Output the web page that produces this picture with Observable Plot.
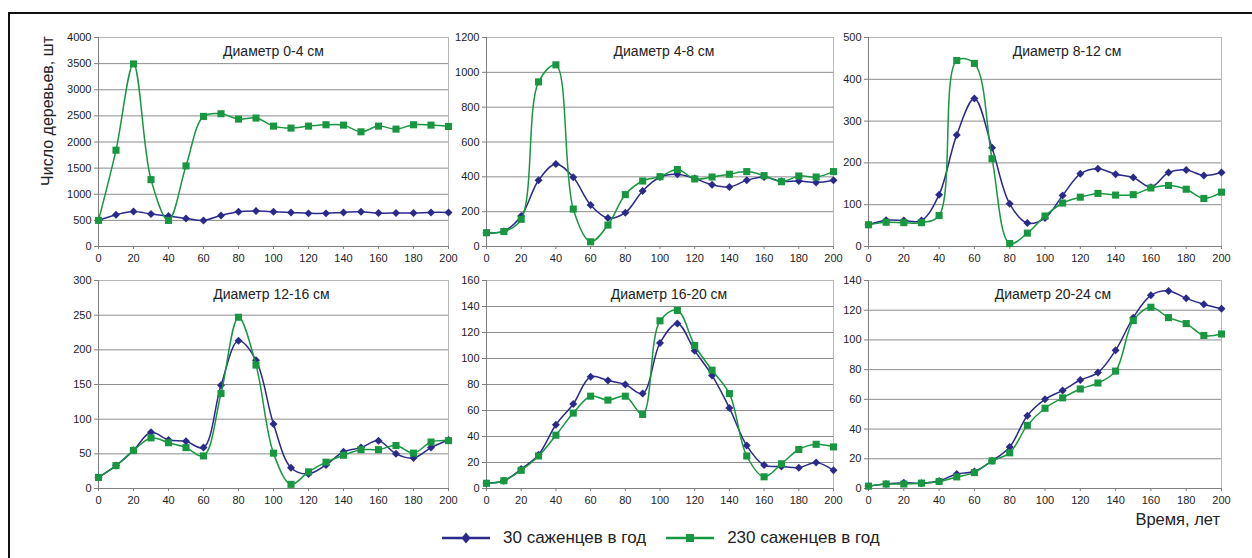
<!DOCTYPE html>
<html>
<head>
<meta charset="utf-8">
<script src="https://cdn.jsdelivr.net/npm/d3@7"></script>
<script src="https://cdn.jsdelivr.net/npm/@observablehq/plot@0.6"></script>
<style>
  html, body { margin: 0; padding: 0; background: #fff; }
  #wrap { position: relative; width: 1252px; height: 558px; overflow: hidden; background: #fff;
          font-family: "Liberation Sans", Arial, sans-serif; color: #222; }
  #border { position: absolute; left: 8px; top: 12px; width: 1400px; height: 700px; border: 2px solid #111; }
  .panel { position: absolute; }
  #ylab { position: absolute; left: 48px; top: 111px; transform: translate(-50%, -50%) rotate(-90deg);
          font-size: 16px; white-space: nowrap; }
  #xlab { position: absolute; right: 32px; top: 510px; font-size: 16.5px; white-space: nowrap; }
  #legend { position: absolute; left: 442px; top: 528px; display: flex; align-items: center; font-size: 17px; white-space: nowrap; }
  #legend .item { display: flex; align-items: center; }
  #legend svg { margin-right: 13px; }
</style>
</head>
<body>
<div id="wrap">
  <div id="border"></div>
  <div id="ylab">Число деревьев, шт</div>
  <div id="xlab">Время, лет</div>
  <div id="legend"></div>
</div>
<script>
// ---- data ----
const years = [0,10,20,30,40,50,60,70,80,90,100,110,120,130,140,150,160,170,180,190,200];
const seriesNames = ["30 саженцев в год", "230 саженцев в год"];
const titles = ["Диаметр 0-4 см", "Диаметр 4-8 см", "Диаметр 8-12 см", "Диаметр 12-16 см", "Диаметр 16-20 см", "Диаметр 20-24 см"];
const yMax = [4000, 1200, 500, 300, 160, 140];
const yStep = [500, 200, 100, 50, 20, 20];

const d0_4_30   = [500,608,672,621,582,538,499,595,666,678,666,653,634,634,653,666,640,640,640,653,653];
const d0_4_230  = [500,1843,3494,1280,499,1542,2490,2541,2438,2458,2304,2266,2304,2330,2323,2195,2304,2246,2330,2323,2298];
const d4_8_30   = [79,88,175,380,474,397,238,163,194,319,399,415,390,355,342,380,399,374,376,367,380];
const d4_8_230  = [79,86,156,945,1043,215,27,123,298,376,401,442,388,399,415,430,407,372,405,399,430];
const d8_12_30  = [52,63,62,62,124,267,354,236,102,56,68,122,174,186,173,165,142,177,183,170,177];
const d8_12_230 = [52,58,57,57,74,445,438,210,7,32,73,104,118,127,123,124,140,146,137,115,130];
const d12_16_30  = [16,33,55,81,70,68,59,149,213,185,93,30,21,34,53,59,69,50,44,59,70];
const d12_16_230 = [16,33,55,73,66,59,47,137,247,178,51,6,24,38,48,56,56,62,51,67,69];
const d16_20_30  = [4,6,15,26,49,65,86,83,80,73,112,127,106,87,62,33,18,17,16,20,14];
const d16_20_230 = [4,6,14,25,41,58,71,68,71,57,129,137,110,91,73,25,9,19,30,34,32];
const d20_24_30  = [1.6,3,3.8,3.6,5.1,9.8,11.4,18.6,28,49,60,66,73,78,93,115,130,133,128,124,121];
const d20_24_230 = [1.6,3,3,3.6,4.7,7.8,10.7,18.6,24,42.5,54,61,67,71,79,113,122,115,111,103,104];

const s30  = [d0_4_30, d4_8_30, d8_12_30, d12_16_30, d16_20_30, d20_24_30];
const s230 = [d0_4_230, d4_8_230, d8_12_230, d12_16_230, d16_20_230, d20_24_230];

// ---- styling / layout ----
const BLUE = "#2a2a8a";
const GREEN = "#17973f";
const cols = [[98, 448], [486, 833], [868, 1221]];
const rows = [[37, 246], [280, 488]];
const titleDx = [0, 4, 22, -2, 9, 8];
const ML = 44, MR = 12, MT = 6, MB = 24;

const wrap = document.getElementById("wrap");

for (let i = 0; i < 6; i++) {
  const [x0, x1] = cols[i % 3];
  const [y0, y1] = rows[Math.floor(i / 3)];
  const w = x1 - x0, h = y1 - y0;
  const a = years.map((t, k) => ({t, v: s30[i][k]}));
  const b = years.map((t, k) => ({t, v: s230[i][k]}));
  const yt = d3.range(0, yMax[i] + 1e-9, yStep[i]);
  const xt = d3.range(0, 201, 20);
  const chart = Plot.plot({
    width: w + ML + MR,
    height: h + MT + MB,
    marginLeft: ML, marginRight: MR, marginTop: MT, marginBottom: MB,
    style: {fontFamily: "'Liberation Sans', Arial, sans-serif", fontSize: "11px", color: "#222", background: "transparent", overflow: "visible"},
    x: {domain: [0, 200]},
    y: {domain: [0, yMax[i]]},
    marks: [
      Plot.ruleY(yt.filter(d => d > 0 && d < yMax[i]), {stroke: "#8c8c8c", strokeWidth: 1}),
      Plot.ruleY([yMax[i]], {stroke: "#b8b8b8", strokeWidth: 1}),
      Plot.ruleX([200], {stroke: "#b8b8b8", strokeWidth: 1}),
      Plot.axisY({ticks: yt, tickFormat: d3.format("d"), tickSize: 4, tickPadding: 3, label: null, stroke: "#808080"}),
      Plot.axisX({ticks: xt, tickFormat: d3.format("d"), tickSize: 3, tickPadding: 5, label: null, stroke: "#808080"}),
      Plot.ruleX([0], {stroke: "#808080", strokeWidth: 1}),
      Plot.ruleY([0], {stroke: "#808080", strokeWidth: 1}),
      Plot.line(a, {x: "t", y: "v", stroke: BLUE, strokeWidth: 1.5, curve: "catmull-rom"}),
      Plot.dot(a, {x: "t", y: "v", symbol: "diamond2", r: 3.6, fill: BLUE, stroke: "none"}),
      Plot.line(b, {x: "t", y: "v", stroke: GREEN, strokeWidth: 1.5, curve: "catmull-rom"}),
      Plot.dot(b, {x: "t", y: "v", symbol: "square", r: 4, fill: GREEN, stroke: "none"}),
      Plot.text([titles[i]], {frameAnchor: "top", lineAnchor: "middle", dy: 14, dx: titleDx[i], fontSize: 14, fill: "#222"})
    ]
  });
  chart.classList.add("panel");
  chart.style.left = (x0 - ML) + "px";
  chart.style.top = (y0 - MT) + "px";
  wrap.appendChild(chart);
}

// ---- legend ----
const legend = document.getElementById("legend");
[[BLUE, "diamond"], [GREEN, "square"]].forEach(([c, shape], k) => {
  const item = document.createElement("div");
  item.className = "item";
  if (k > 0) item.style.marginLeft = "20px";
  const marker = shape === "diamond"
    ? `<path d="M24,4.5 L28.5,10 L24,15.5 L19.5,10 Z" fill="${c}"/>`
    : `<rect x="20" y="6" width="8" height="8" fill="${c}"/>`;
  item.innerHTML = `<svg width="48" height="20"><line x1="0" x2="48" y1="10" y2="10" stroke="${c}" stroke-width="2.5"/>${marker}</svg><span>${seriesNames[k]}</span>`;
  legend.appendChild(item);
});
</script>
</body>
</html>
